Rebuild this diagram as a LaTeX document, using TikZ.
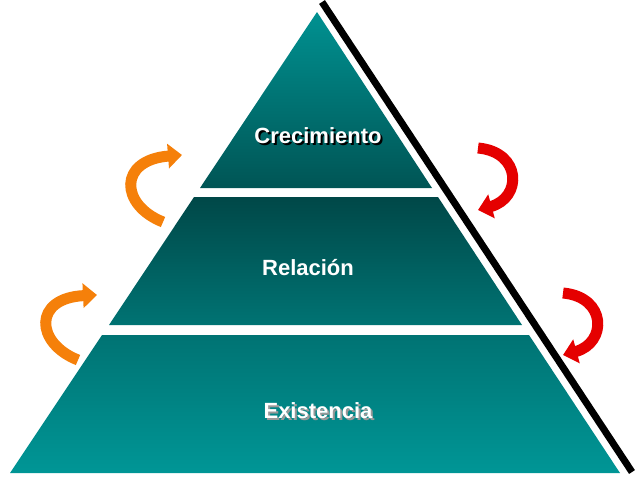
\documentclass[tikz,border=0pt]{standalone}
\usepackage{fontspec}
\setmainfont{Liberation Sans}
\usetikzlibrary{arrows.meta}
\newcommand{\shadowtext}[2]{\rlap{\hspace{2pt}\raisebox{-2pt}{\textcolor{#1}{#2}}}#2}
\begin{document}
\begin{tikzpicture}[x=1pt,y=-1pt,
  lbl/.style={font=\bfseries\fontsize{22}{24}\selectfont,text=white},
  orangearrow/.style={line width=11pt,color=orange!85!brown,-{Triangle[width=24pt,length=14pt]}},
  redarrow/.style={line width=11pt,color=red!90!black,-{Triangle[width=24pt,length=14pt]}}]
\useasboundingbox (0,0) rectangle (637,480);
\definecolor{tealA}{RGB}{0,145,145}
\definecolor{tealB}{RGB}{0,85,85}
\definecolor{tealC}{RGB}{0,72,72}
\definecolor{tealD}{RGB}{0,115,115}
\definecolor{tealE}{RGB}{0,150,150}
% black shadow edge
\draw[line width=7pt] (322,2) -- (632,472);
% bands
\shade[top color=tealA,bottom color=tealB] (317,12) -- (200,188) -- (432,188) -- cycle;
\shade[top color=tealC,bottom color=tealD] (194,197) -- (438,197) -- (522,325) -- (109,325) -- cycle;
\shade[top color=tealD,bottom color=tealE] (102,335) -- (529,335) -- (620,473) -- (10,473) -- cycle;
% labels
\node[lbl] (c) at (318,137) {\shadowtext{black}{Crecimiento}};
\node[lbl] (r) at (308,268) {Relación};
\node[lbl] (e) at (318,412) {\shadowtext{black!40}{Existencia}};
% arrows
\coordinate (o1s) at (163,222); \coordinate (o1e) at (182,155);
\coordinate (o2s) at (78,360); \coordinate (o2e) at (97,295);
\coordinate (r1s) at (478,148); \coordinate (r1e) at (478,210);
\coordinate (r2s) at (563,293); \coordinate (r2e) at (563,355);
\draw[orangearrow] (o1s) .. controls (120,205) and (118,160) .. (o1e);
\draw[orangearrow] (o2s) .. controls (35,343) and (33,298) .. (o2e);
\draw[redarrow] (r1s) .. controls (522,152) and (522,198) .. (r1e);
\draw[redarrow] (r2s) .. controls (607,297) and (607,343) .. (r2e);
\end{tikzpicture}
\end{document}
